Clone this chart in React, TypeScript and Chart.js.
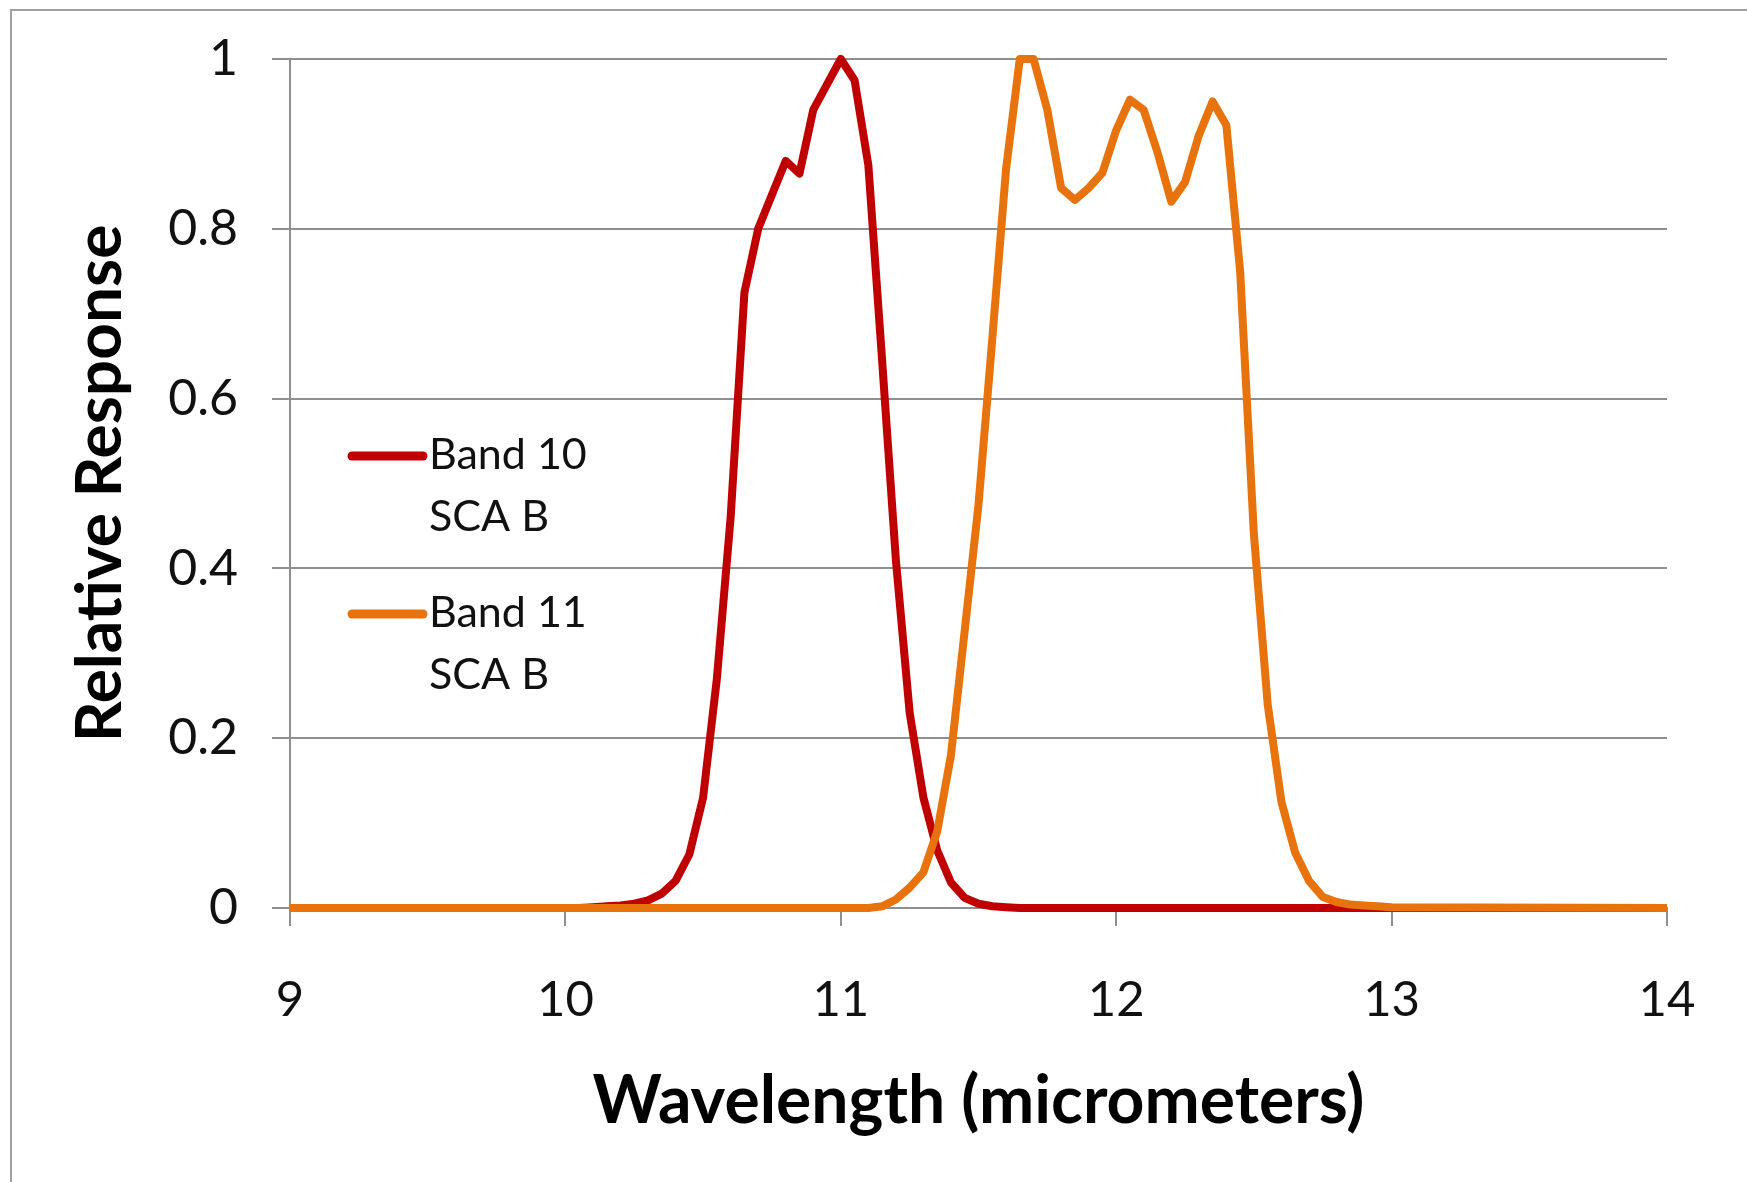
import React, { useEffect, useRef } from "react";
import { Chart, registerables } from "chart.js";

Chart.register(...registerables);

// ---- data ----
const wavelength = [
  9.0, 10.0, 10.05, 10.1, 10.15, 10.2, 10.25, 10.3, 10.35, 10.4, 10.45, 10.5,
  10.55, 10.6, 10.65, 10.7, 10.75, 10.8, 10.85, 10.9, 10.95, 11.0, 11.05, 11.1,
  11.15, 11.2, 11.25, 11.3, 11.35, 11.4, 11.45, 11.5, 11.55, 11.6, 11.65, 11.7,
  11.75, 11.8, 11.85, 11.9, 11.95, 12.0, 12.05, 12.1, 12.15, 12.2, 12.25, 12.3,
  12.35, 12.4, 12.45, 12.5, 12.55, 12.6, 12.65, 12.7, 12.75, 12.8, 12.85, 12.9,
  12.95, 13.0, 14.0,
];

const band10 = [
  0, 0, 0, 0.001, 0.002, 0.003, 0.005, 0.009, 0.017, 0.032, 0.063, 0.13,
  0.27, 0.46, 0.725, 0.8, 0.84, 0.88, 0.865, 0.94, 0.97, 1.0, 0.975, 0.875,
  0.645, 0.41, 0.23, 0.13, 0.068, 0.03, 0.012, 0.005, 0.002, 0.001, 0, 0,
  0, 0, 0, 0, 0, 0, 0, 0, 0, 0, 0, 0,
  0, 0, 0, 0, 0, 0, 0, 0, 0, 0, 0, 0,
  0, 0, 0,
];

const band11 = [
  0, 0, 0, 0, 0, 0, 0, 0, 0, 0, 0, 0,
  0, 0, 0, 0, 0, 0, 0, 0, 0, 0, 0, 0,
  0.002, 0.01, 0.024, 0.042, 0.09, 0.18, 0.327, 0.475, 0.67, 0.87, 1.0, 1.0,
  0.94, 0.848, 0.834, 0.848, 0.866, 0.916, 0.952, 0.94, 0.89, 0.832, 0.855, 0.91,
  0.95, 0.922, 0.75, 0.44, 0.24, 0.125, 0.065, 0.032, 0.013, 0.007, 0.004, 0.003,
  0.002, 0.001, 0,
];

const seriesNames = ["Band 10 SCA B", "Band 11 SCA B"];
const legendLines = [
  ["Band 10", "SCA B"],
  ["Band 11", "SCA B"],
];
const seriesColors = ["#C00000", "#E8720C"];
const xTicks = [9, 10, 11, 12, 13, 14];
const yTicks = [0, 0.2, 0.4, 0.6, 0.8, 1];
const xTitle = "Wavelength (micrometers)";
const yTitle = "Relative Response";

const W = 1747;
const H = 1182;
const GRID = "#8f8f8f";
const TEXT = "#111111";

const inlineLegend = {
  id: "inlineLegend",
  afterDatasetsDraw(chart: any) {
    const ctx = chart.ctx as CanvasRenderingContext2D;
    const left = chart.chartArea.left;
    ctx.save();
    chart.data.datasets.forEach((ds: any, i: number) => {
      const lineY = 456 + i * 158;
      ctx.strokeStyle = ds.borderColor;
      ctx.lineWidth = 9;
      ctx.lineCap = "round";
      ctx.beginPath();
      ctx.moveTo(left + 62, lineY);
      ctx.lineTo(left + 133, lineY);
      ctx.stroke();
      ctx.fillStyle = TEXT;
      ctx.font = "43px Lato";
      ctx.textAlign = "left";
      ctx.textBaseline = "middle";
      const lines = legendLines[i];
      lines.forEach((t, j) => {
        ctx.fillText(t, left + 139, lineY - 1 + j * 62);
      });
    });
    ctx.restore();
  },
};

export default function App() {
  const ref = useRef<HTMLCanvasElement | null>(null);

  useEffect(() => {
    if (!ref.current) return;
    const toPoints = (ys: number[]) => wavelength.map((x, i) => ({ x, y: ys[i] }));
    const chart = new Chart(ref.current, {
      type: "line",
      data: {
        datasets: [
          {
            label: seriesNames[0],
            data: toPoints(band10),
            borderColor: seriesColors[0],
            backgroundColor: seriesColors[0],
            borderWidth: 8,
            pointRadius: 0,
            tension: 0,
            borderJoinStyle: "round",
            clip: false,
            order: 2,
          } as any,
          {
            label: seriesNames[1],
            data: toPoints(band11),
            borderColor: seriesColors[1],
            backgroundColor: seriesColors[1],
            borderWidth: 8,
            pointRadius: 0,
            tension: 0,
            borderJoinStyle: "round",
            clip: false,
            order: 1,
          } as any,
        ],
      },
      options: {
        responsive: false,
        animation: false,
        devicePixelRatio: 1,
        layout: { padding: { left: 0, top: 59, right: 80, bottom: 0 } },
        plugins: {
          legend: { display: false },
          tooltip: { enabled: false },
        },
        scales: {
          x: {
            type: "linear",
            min: 9,
            max: 14,
            afterBuildTicks: (s: any) => {
              s.ticks = xTicks.map((v) => ({ value: v }));
            },
            ticks: {
              font: { family: "Lato", size: 49 },
              color: TEXT,
              padding: 45,
              maxRotation: 0,
              autoSkip: false,
            },
            grid: {
              drawOnChartArea: false,
              drawTicks: true,
              tickLength: 18,
              color: GRID,
              lineWidth: 2,
            },
            border: { display: true, color: GRID, width: 2 },
            title: {
              display: true,
              text: xTitle,
              font: { family: "Lato", size: 66, weight: "bold" },
              color: "#000",
              padding: { top: 0, bottom: 41 },
            },
            afterFit: (s: any) => {
              s.height = 274;
            },
          },
          y: {
            type: "linear",
            min: 0,
            max: 1,
            afterBuildTicks: (s: any) => {
              s.ticks = yTicks.map((v) => ({ value: v }));
            },
            ticks: {
              font: { family: "Lato", size: 50 },
              color: TEXT,
              padding: 34,
              callback: (v: any) => String(Math.round(Number(v) * 10) / 10),
            },
            grid: {
              drawOnChartArea: true,
              drawTicks: true,
              tickLength: 18,
              color: GRID,
              lineWidth: 2,
            },
            border: { display: true, color: GRID, width: 2 },
            title: {
              display: true,
              text: yTitle,
              font: { family: "Lato", size: 64, weight: "bold" },
              color: "#000",
              padding: { top: 62, bottom: 0 },
            },
            afterFit: (s: any) => {
              s.width = 290;
              s.paddingTop = 30;
              s.paddingBottom = 30;
            },
          },
        },
      },
      plugins: [inlineLegend],
    });
    return () => chart.destroy();
  }, []);

  return (
    <div
      style={{
        position: "fixed",
        left: 0,
        top: 0,
        width: W,
        height: H,
        overflow: "hidden",
        background: "#fff",
      }}
    >
      <canvas ref={ref} width={W} height={H} style={{ display: "block" }} />
      <div
        style={{
          position: "absolute",
          left: 10,
          top: 9,
          width: 3000,
          height: 3000,
          border: "2px solid #a0a0a0",
          pointerEvents: "none",
        }}
      />
    </div>
  );
}
